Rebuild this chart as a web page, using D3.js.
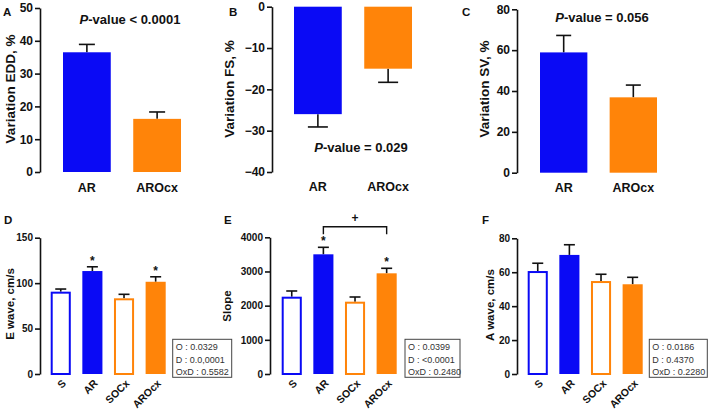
<!DOCTYPE html>
<html><head><meta charset="utf-8">
<script src="https://cdn.jsdelivr.net/npm/d3@7"></script>
<style>body{margin:0;background:#fff}svg{display:block;font-family:"Liberation Sans",Arial,sans-serif}</style>
</head><body><svg id="c" width="709" height="412"></svg>
<script>
// ---------- data ----------
const topCats = ["AR", "AROcx"];
const edd = [36.5, 16.2];      const eddErr = [38.9, 18.3];
const fs  = [-26.0, -15.0];    const fsErr  = [-29.1, -18.3];
const sv  = [58.9, 36.9];      const svErr  = [67.2, 42.9];
const botCats = ["S", "AR", "SOCx", "AROcx"];
const ewave = [90.6, 113.3, 83.3, 101.5];  const ewaveErr = [93.5, 118, 87.7, 107];
const slope = [2262, 3502, 2116, 2946];    const slopeErr = [2429, 3707, 2253, 3093];
const awave = [60.7, 70.2, 54.8, 52.9];    const awaveErr = [65.3, 76.2, 58.8, 57.0];
const filled = [false, true, false, true];
const topTicksA = [0,10,20,30,40,50], topTicksB = [0,-10,-20,-30,-40], topTicksC = [0,20,40,60,80];
const ticksD = [0,50,100,150], ticksE = [0,1000,2000,3000,4000], ticksF = [0,20,40,60,80];
const starsD = [false,true,false,true], starsE = [false,true,false,true], starsF = [false,false,false,false];
const statsD = ["O : 0.0329","D : 0.0,0001","OxD : 0.5582"];
const statsE = ["O : 0.0399","D : <0.0001","OxD : 0.2480"];
const statsF = ["O : 0.0186","D : 0.4370","OxD : 0.2280"];

const BLUE = "#0a0af5", ORANGE = "#ff8409";
const svg = d3.select("#c");

function panel(o) {
  const g = svg.append("g");
  const y = d3.scaleLinear().domain(o.ydom).range(o.yrng);
  const x = d3.scaleBand().domain(o.cats).range(o.xrng).paddingInner(o.pad).paddingOuter(0);
  const ax = g.append("g").attr("transform", `translate(${o.axisX},0)`)
    .call(d3.axisLeft(y).tickValues(o.ticks).tickSize(5).tickSizeOuter(0).tickFormat(d => d < 0 ? "\u2212" + Math.abs(d) : d));
  ax.select(".domain").attr("stroke", "#111").attr("stroke-width", 1.6);
  ax.selectAll(".tick line").attr("stroke", "#111").attr("stroke-width", 1.6);
  ax.selectAll(".tick text").attr("font-size", o.tickFs).attr("font-weight", "bold").attr("fill", "#111").attr("x", -7);
  const cols = o.cols;
  o.cats.forEach((c, i) => {
    const v = o.vals[i], e = o.errs[i];
    const x0 = x(c), bw = x.bandwidth();
    const yTop = Math.min(y(v), y(0)), h = Math.abs(y(v) - y(0));
    const cx = x0 + bw / 2;
    g.append("line").attr("x1", cx).attr("x2", cx).attr("y1", y(v)).attr("y2", y(e)).attr("stroke", "#111").attr("stroke-width", 1.6);
    g.append("line").attr("x1", cx - o.cap / 2).attr("x2", cx + o.cap / 2).attr("y1", y(e)).attr("y2", y(e)).attr("stroke", "#111").attr("stroke-width", 1.6);
    if (o.filled && !o.filled[i]) {
      g.append("rect").attr("x", x0 + 1).attr("y", yTop + 1).attr("width", bw - 2).attr("height", h - 1)
        .attr("fill", "#fff").attr("stroke", cols[i]).attr("stroke-width", 2);
    } else {
      g.append("rect").attr("x", x0).attr("y", yTop).attr("width", bw).attr("height", h).attr("fill", cols[i]);
    }
    if (o.stars && o.stars[i]) {
      g.append("text").attr("x", cx).attr("y", y(e) - 2).attr("text-anchor", "middle").attr("font-size", 12)
        .attr("font-weight", "bold").attr("fill", "#111").text("*");
    }
  });
  if (o.rot) {
    o.cats.forEach(c => {
      const cx = x(c) + x.bandwidth() / 2 + 6;
      g.append("text").attr("transform", `translate(${cx},${o.labY}) rotate(-45)`).attr("text-anchor", "end")
        .attr("font-size", 10.5).attr("font-weight", "bold").attr("fill", "#111").text(c);
    });
  } else {
    o.cats.forEach(c => {
      g.append("text").attr("x", x(c) + x.bandwidth() / 2).attr("y", o.labY).attr("text-anchor", "middle")
        .attr("font-size", 12.5).attr("font-weight", "bold").attr("fill", "#111").text(c);
    });
  }
  g.append("text").attr("transform", `translate(${o.titleX},${o.titleY}) rotate(-90)`).attr("text-anchor", "middle")
    .attr("font-size", o.titleFs).attr("font-weight", "bold").attr("fill", "#111").text(o.title);
  g.append("text").attr("x", o.letter[1]).attr("y", o.letter[2]).attr("font-size", 11.5).attr("font-weight", "bold")
    .attr("fill", "#111").text(o.letter[0]);
  if (o.p) {
    const t = g.append("text").attr("x", o.p[1]).attr("y", o.p[2]).attr("text-anchor", "middle")
      .attr("font-size", 13).attr("font-weight", "bold").attr("fill", "#111");
    t.append("tspan").attr("font-style", "italic").text("P");
    t.append("tspan").text(o.p[0]);
  }
  if (o.box) {
    const [bx, by, bw, bh] = o.boxR;
    g.append("rect").attr("x", bx).attr("y", by).attr("width", bw).attr("height", bh)
      .attr("fill", "#fff").attr("stroke", "#444").attr("stroke-width", 1);
    o.box.forEach((s, i) => g.append("text").attr("x", bx + 3).attr("y", by + 11 + i * 12.2)
      .attr("font-size", 9).attr("fill", "#333").text(s));
  }
  return { x, y, g };
}

const topCols = [BLUE, ORANGE], botCols = [BLUE, BLUE, ORANGE, ORANGE];

panel({ cats: topCats, vals: edd, errs: eddErr, ydom: [0, 50], yrng: [172, 8], xrng: [63, 181], pad: 0.32,
  axisX: 40, ticks: topTicksA, tickFs: 12, cols: topCols, cap: 16, labY: 192,
  title: "Variation EDD, %", titleX: 15, titleY: 89, titleFs: 13.5, letter: ["A", 3, 16], p: ["-value < 0.0001", 130, 24] });
panel({ cats: topCats, vals: fs, errs: fsErr, ydom: [0, -40], yrng: [6.7, 172], xrng: [294, 412], pad: 0.32,
  axisX: 272, ticks: topTicksB, tickFs: 12, cols: topCols, cap: 20, labY: 191,
  title: "Variation FS, %", titleX: 234, titleY: 89, titleFs: 13.5, letter: ["B", 229, 16], p: ["-value = 0.029", 361, 152] });
panel({ cats: topCats, vals: sv, errs: svErr, ydom: [0, 80], yrng: [172.7, 9.3], xrng: [540, 657], pad: 0.32,
  axisX: 517, ticks: topTicksC, tickFs: 12, cols: topCols, cap: 15, labY: 192,
  title: "Variation SV, %", titleX: 489, titleY: 89, titleFs: 13.5, letter: ["C", 462, 16], p: ["-value = 0.056", 602, 22] });

panel({ cats: botCats, vals: ewave, errs: ewaveErr, ydom: [0, 150], yrng: [374, 237.7], xrng: [50.7, 165.7], pad: 0.365,
  axisX: 40, ticks: ticksD, tickFs: 10, cols: botCols, cap: 11, labY: 384, rot: true, filled, stars: starsD,
  title: "E wave, cm/s", titleX: 14, titleY: 304, titleFs: 11.5, letter: ["D", 4, 224], box: statsD, boxR: [172.7, 339.3, 59, 38] });
const E = panel({ cats: botCats, vals: slope, errs: slopeErr, ydom: [0, 4000], yrng: [374, 237.3], xrng: [281.7, 396.7], pad: 0.365,
  axisX: 270, ticks: ticksE, tickFs: 10, cols: botCols, cap: 11, labY: 384, rot: true, filled, stars: starsE,
  title: "Slope", titleX: 231, titleY: 306, titleFs: 11.5, letter: ["E", 224, 224], box: statsE, boxR: [405, 339.3, 55, 38] });
panel({ cats: botCats, vals: awave, errs: awaveErr, ydom: [0, 80], yrng: [374, 238.3], xrng: [527.7, 642.7], pad: 0.365,
  axisX: 517, ticks: ticksF, tickFs: 10, cols: botCols, cap: 11, labY: 384, rot: true, filled, stars: starsF,
  title: "A wave, cm/s", titleX: 494, titleY: 305, titleFs: 11.5, letter: ["F", 482, 224], box: statsF, boxR: [649.3, 339.3, 58, 38] });

const bx1 = E.x("AR") + E.x.bandwidth() / 2, bx2 = E.x("AROcx") + E.x.bandwidth() / 2;
E.g.append("path").attr("d", `M${bx1},234.3V226.7H${bx2}V234.3`).attr("fill", "none").attr("stroke", "#111").attr("stroke-width", 1.4);
E.g.append("text").attr("x", (bx1 + bx2) / 2).attr("y", 222).attr("text-anchor", "middle").attr("font-size", 12)
  .attr("font-weight", "bold").attr("fill", "#111").text("+");
</script></body></html>
